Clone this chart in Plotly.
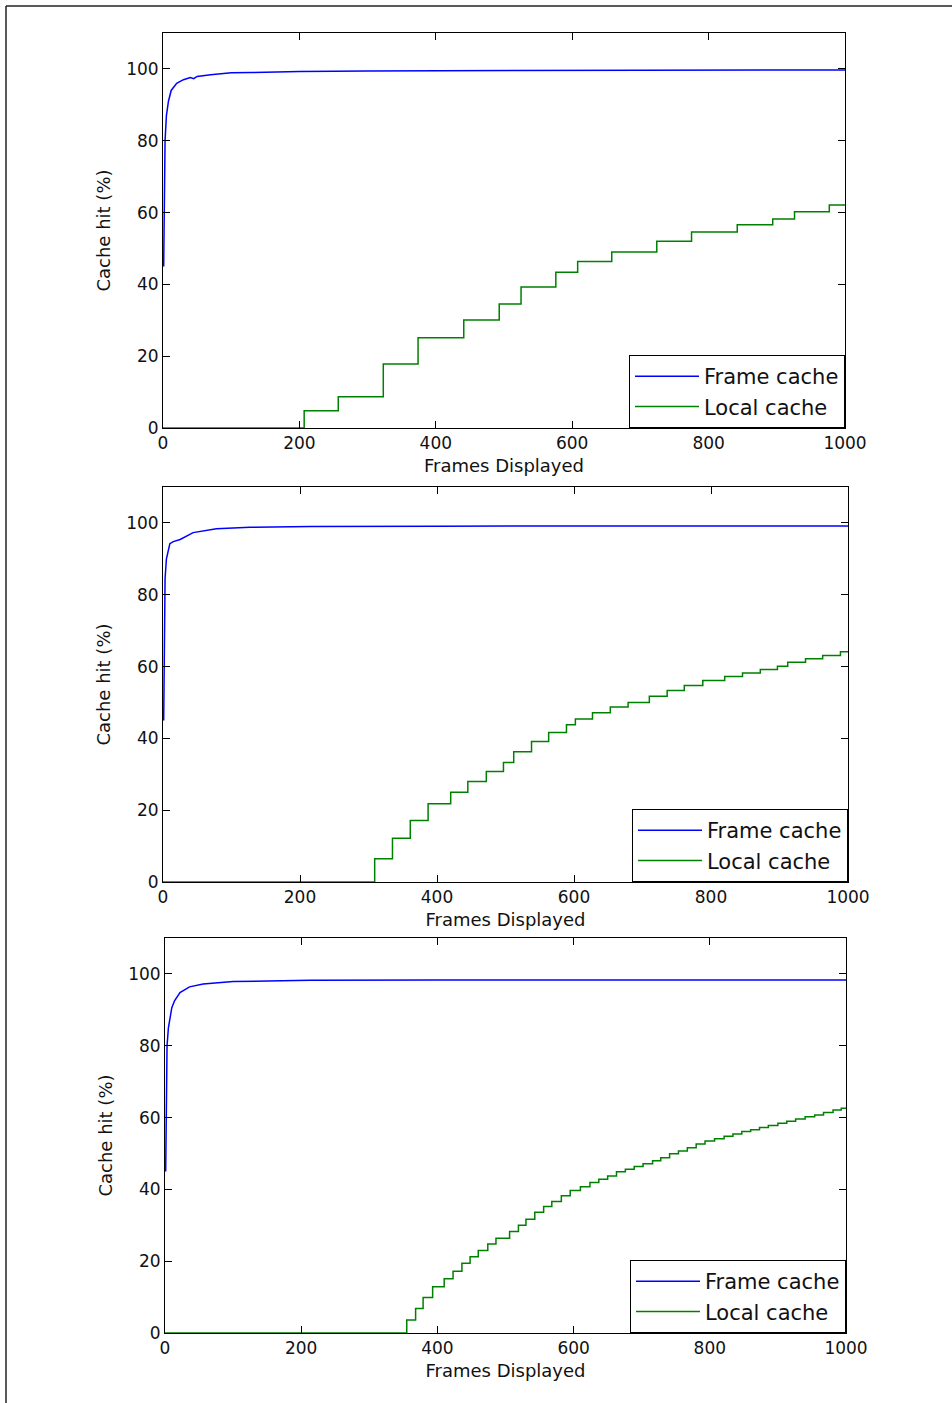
import plotly.graph_objects as go

W, H = 952, 1403

# ---------------- data ----------------
# Panel 1
frame_x1 = [1, 2, 3, 5, 8, 12, 20, 30, 40, 45, 50, 70, 100, 130, 200, 300, 500, 700, 1000]
frame_y1 = [45, 70, 80, 87, 91, 94, 96, 97, 97.6, 97.3, 97.9, 98.4, 98.9, 99.0, 99.3, 99.4, 99.6, 99.65, 99.7]
local_x1 = [0, 207, 257, 323, 374, 441, 493, 525, 576, 608, 658, 724, 775, 842, 894, 926, 977, 1000]
local_y1 = [0, 4.8, 8.7, 17.8, 25.1, 30.1, 34.5, 39.3, 43.4, 46.4, 49.0, 52.0, 54.6, 56.6, 58.2, 60.2, 62.1, 62.1]

# Panel 2
frame_x2 = [1, 2, 3, 5, 10, 15, 20, 25, 44, 78, 127, 215, 400, 700, 1000]
frame_y2 = [45, 72, 84.5, 90, 94.2, 94.8, 95.2, 95.4, 97.3, 98.4, 98.8, 99.0, 99.1, 99.15, 99.15]
local_x2 = [0, 309, 335, 361, 387, 420, 445, 472, 497, 512, 538, 563, 589, 602, 627, 653, 679, 710,
            736, 761, 788, 820, 846, 872, 897, 912, 938, 963, 989, 1000]
local_y2 = [0, 6.5, 12.2, 17.1, 21.8, 25.0, 28.0, 30.8, 33.3, 36.3, 39.1, 41.6, 43.8, 45.4, 47.1, 48.7,
            50.0, 51.7, 53.3, 54.7, 56.1, 57.2, 58.2, 59.2, 60.1, 61.2, 62.2, 63.1, 64.1, 64.1]

# Panel 3
frame_x3 = [1, 2, 3, 5, 8, 10, 14, 22, 36, 56, 100, 213, 400, 700, 1000]
frame_y3 = [45, 70, 80, 85, 89, 90.6, 92.5, 94.8, 96.4, 97.2, 97.9, 98.2, 98.3, 98.3, 98.3]
local_x3 = [0, 355, 368, 379, 393, 410, 423, 436, 448, 460, 474, 486, 506, 519, 530, 543, 556, 568,
            582, 595, 610, 624, 637, 650, 663, 676, 689, 702, 716, 728, 741, 754, 767, 780, 793,
            807, 821, 834, 847, 860, 873, 886, 900, 913, 926, 940, 954, 967, 981, 993, 1000]
local_y3 = [0, 3.6, 6.8, 9.9, 12.9, 15.1, 17.2, 19.4, 21.2, 23.0, 24.8, 26.4, 28.3, 30.0, 31.7, 33.6,
            35.2, 36.6, 38.2, 39.7, 40.7, 41.9, 42.8, 43.7, 44.9, 45.6, 46.4, 47.1, 48.0, 48.8, 49.9,
            50.7, 51.6, 52.6, 53.5, 54.1, 54.8, 55.4, 56.1, 56.6, 57.2, 57.8, 58.4, 59.0, 59.6, 60.2,
            60.7, 61.4, 62.1, 62.6, 62.6]

x_ticks = [0, 200, 400, 600, 800, 1000]
y_ticks = [0, 20, 40, 60, 80, 100]
series_names = ["Frame cache", "Local cache"]
x_title = "Frames Displayed"
y_title = "Cache hit (%)"

# ---------------- layout geometry (pixels) ----------------
panels = [
    dict(l=163, r=845, t=33, b=428, fx=frame_x1, fy=frame_y1, lx=local_x1, ly=local_y1),
    dict(l=163, r=848, t=487, b=882, fx=frame_x2, fy=frame_y2, lx=local_x2, ly=local_y2),
    dict(l=165, r=846, t=938, b=1333, fx=frame_x3, fy=frame_y3, lx=local_x3, ly=local_y3),
]

FONT = "DejaVu Sans"
TXT = "#111111"
fig = go.Figure()
layout = dict(
    width=W, height=H,
    margin=dict(l=0, r=0, t=0, b=0),
    paper_bgcolor="white", plot_bgcolor="white",
    font=dict(family=FONT, size=17, color=TXT),
    showlegend=True,
)

for i, p in enumerate(panels):
    n = "" if i == 0 else str(i + 1)
    xa, ya = "x" + n, "y" + n
    leg = "legend" + n
    fig.add_trace(go.Scatter(x=p["fx"], y=p["fy"], mode="lines", name=series_names[0],
                             line=dict(color="#0000ff", width=1.5),
                             xaxis=xa, yaxis=ya, legend=leg))
    fig.add_trace(go.Scatter(x=p["lx"], y=p["ly"], mode="lines", name=series_names[1],
                             line=dict(color="#008000", width=1.5, shape="hv"),
                             xaxis=xa, yaxis=ya, legend=leg))
    axcommon = dict(showline=True, linecolor="black", linewidth=1, mirror="ticks",
                    ticks="inside", ticklen=7, tickcolor="black", showgrid=False,
                    zeroline=False, automargin=False,
                    tickfont=dict(family=FONT, size=17, color=TXT))
    layout["xaxis" + n] = dict(
        axcommon, domain=[p["l"] / W, p["r"] / W], range=[0, 1000],
        tickvals=x_ticks, anchor=ya,
        title=dict(text=x_title, standoff=6, font=dict(family=FONT, size=18, color=TXT)),
    )
    layout["yaxis" + n] = dict(
        axcommon, domain=[1 - p["b"] / H, 1 - p["t"] / H], range=[0, 110],
        tickvals=y_ticks, anchor=xa,
        title=dict(text=y_title, standoff=10, font=dict(family=FONT, size=18, color=TXT)),
    )
    layout[leg] = dict(
        x=p["r"] / W, y=1 - p["b"] / H, xanchor="right", yanchor="bottom",
        xref="paper", yref="paper",
        bgcolor="white", bordercolor="black", borderwidth=1,
        font=dict(family=FONT, size=21, color=TXT),
        itemwidth=64, tracegroupgap=0,
    )

layout["shapes"] = [
    dict(type="line", xref="paper", yref="paper", x0=6 / W, x1=1, y0=1 - 6 / H, y1=1 - 6 / H,
         line=dict(color="#222222", width=1.5)),
    dict(type="line", xref="paper", yref="paper", x0=6 / W, x1=6 / W, y0=0, y1=1 - 6 / H,
         line=dict(color="#222222", width=1.5)),
]

fig.update_layout(**layout)
fig.write_html("out.html",
               config={"displayModeBar": False},
               post_script="document.body.style.margin='0';document.body.style.overflow='hidden';")
